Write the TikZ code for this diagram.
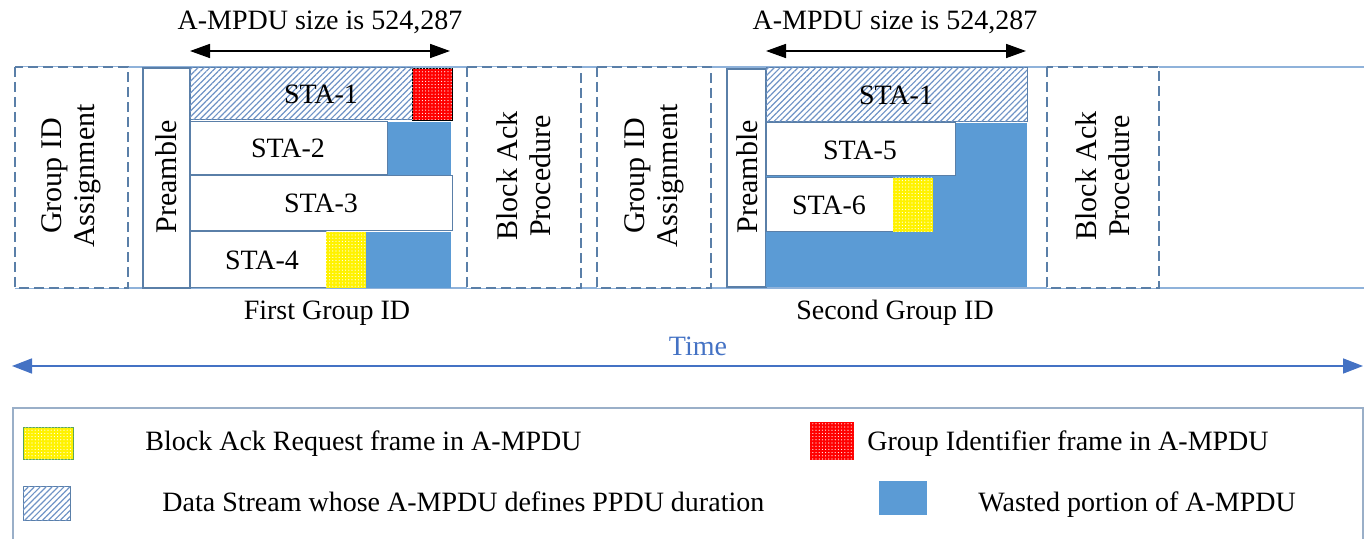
\documentclass[tikz,border=0pt]{standalone}
\usepackage{fontspec}
\setmainfont{Liberation Serif}
\usetikzlibrary{patterns.meta,arrows.meta}

\definecolor{wasteblue}{HTML}{5B9BD5}
\definecolor{edge}{HTML}{5A7FA8}
\definecolor{rail}{HTML}{8FB2DA}
\definecolor{timeblue}{HTML}{4472C4}
\definecolor{hatchblue}{HTML}{6F93C6}
\definecolor{framegray}{HTML}{9AAFC8}

\begin{document}
\begin{tikzpicture}[x=0.5pt,y=-0.5pt,
  every node/.style={font=\fontsize{14}{16}\selectfont, inner sep=0pt},
  vtext/.style={rotate=90, align=center, font=\fontsize{15}{16.5}\selectfont},
  dbox/.style={draw=edge, line width=0.7pt, dash pattern=on 5pt off 2.5pt},
  pbox/.style={draw=edge, line width=0.6pt, fill=white},
  cell/.style={draw=edge, line width=0.5pt, fill=white},
  wasted/.style={fill=wasteblue},
  lead/.style={fill=white, postaction={pattern={Lines[angle=45,distance=2.1pt,line width=0.6pt]}, pattern color=hatchblue}},
  barframe/.style={fill=yellow, postaction={pattern={Dots[distance=1.6pt,radius=0.3pt]}, pattern color=white}},
  gidframe/.style={fill=red, postaction={pattern={Dots[distance=1.6pt,radius=0.3pt]}, pattern color=white}},
  sizearrow/.style={{Triangle[length=10pt,width=7pt]}-{Triangle[length=10pt,width=7pt]}, line width=0.8pt, black},
  timearrow/.style={{Triangle[length=10pt,width=7.5pt]}-{Triangle[length=10pt,width=7.5pt]}, line width=0.8pt, timeblue},
]
\useasboundingbox (0,0) rectangle (1364,539);

% timeline rails
\draw[rail, line width=0.8pt] (15,67) -- (1364,67);
\draw[rail, line width=0.8pt] (15,288) -- (1364,288);

% ---- first group ----
\draw[dbox, fill=white] (15,67) rectangle (128,288);
\node[vtext] (ga1) at (71,176) {Group ID\\Assignment};

\draw[pbox] (143,68) rectangle (190,288);
\node[vtext] (pre1) at (166,177) {Preamble};

% STA-1 with group identifier frame
\draw[lead, draw=edge, line width=0.5pt] (190,68) rectangle (412,120);
\draw[gidframe] (412,68) rectangle (452,120);
\node (s11) at (321,94) {STA-1};
% STA-2
\fill[wasted] (387,122) rectangle (451,175);
\draw[cell] (190,122) rectangle (387,175);
\node (s12) at (288,148) {STA-2};
% STA-3
\draw[cell] (190,176) rectangle (452,231);
\node (s13) at (321,203) {STA-3};
% STA-4
\fill[wasted] (366,232) rectangle (451,288);
\draw[cell] (190,232) rectangle (326,288);
\fill[barframe] (326,232) rectangle (366,288);
\node (s14) at (262,260) {STA-4};

\coordinate (a1l) at (190,51);
\coordinate (a1r) at (450,51);
\draw[sizearrow] (a1l) -- (a1r);
\node[anchor=base] (lab1) at (320,30) {A-MPDU size is 524,287};
\node[anchor=base] (g1) at (327,320) {First Group ID};

\draw[dbox, fill=white] (467,67) rectangle (581,288);
\node[vtext] (ba1) at (524,176) {Block Ack\\Procedure};

% ---- second group ----
\draw[dbox, fill=white] (597,67) rectangle (711,288);
\node[vtext] (ga2) at (654,176) {Group ID\\Assignment};

\draw[pbox] (727,69) rectangle (766,287);
\node[vtext] (pre2) at (747,177) {Preamble};

\draw[lead, draw=edge, line width=0.5pt] (766,68) rectangle (1027,122);
\node (s21) at (896,95) {STA-1};
\fill[wasted] (766,123) rectangle (1027,287);
\draw[cell] (766,123) rectangle (955,176);
\node (s25) at (860,150) {STA-5};
\draw[cell] (766,178) rectangle (893,232);
\fill[barframe] (893,178) rectangle (933,232);
\node (s26) at (829,205) {STA-6};

\coordinate (a2l) at (766,51);
\coordinate (a2r) at (1026,51);
\draw[sizearrow] (a2l) -- (a2r);
\node[anchor=base] (lab2) at (895,30) {A-MPDU size is 524,287};
\node[anchor=base] (g2) at (895,320) {Second Group ID};

\draw[dbox, fill=white] (1047,67) rectangle (1159,288);
\node[vtext] (ba2) at (1103,176) {Block Ack\\Procedure};

% ---- time axis ----
\coordinate (t0) at (12,366);
\coordinate (t1) at (1363,366);
\draw[timearrow] (t0) -- (t1);
\node[anchor=base, text=timeblue] (time) at (698,356) {Time};

% ---- legend ----
\draw[framegray, line width=0.8pt] (13,545) -- (13,408) -- (1363,408) -- (1363,545);

\draw[barframe, draw=gray!70!green, line width=0.5pt] (23,427) rectangle (73,459);
\node[anchor=base west] (k1) at (145,450) {Block Ack Request frame in A-MPDU};

\fill[gidframe] (810,422) rectangle (854,460);
\node[anchor=base west] (k2) at (867,450) {Group Identifier frame in A-MPDU};

\draw[lead, draw=edge, line width=0.5pt] (23,486) rectangle (70,520);
\node[anchor=base west] (k3) at (162,511) {Data Stream whose A-MPDU defines PPDU duration};

\fill[wasted] (879,481) rectangle (927,515);
\node[anchor=base west] (k4) at (978,511) {Wasted portion of A-MPDU};
\end{tikzpicture}
\end{document}
